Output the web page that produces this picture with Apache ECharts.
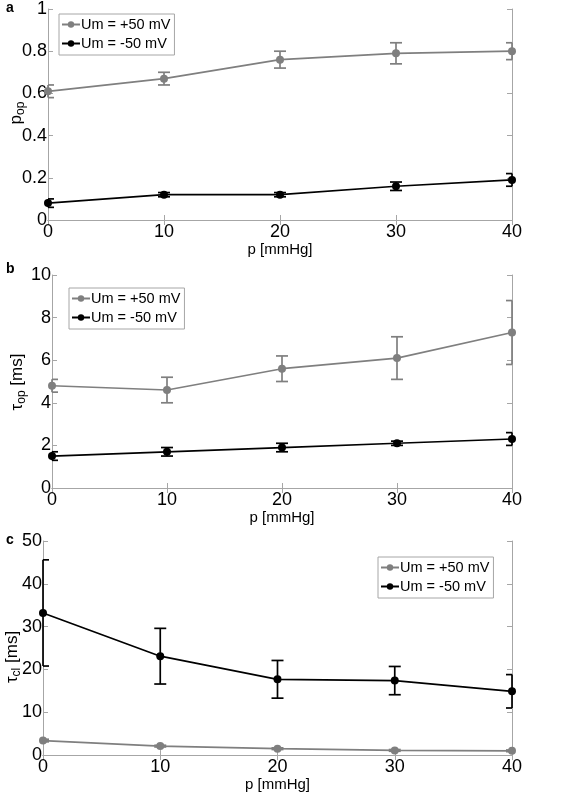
<!DOCTYPE html>
<html><head><meta charset="utf-8">
<script src="https://cdn.jsdelivr.net/npm/echarts@6/dist/echarts.min.js"></script>
<style>html,body{margin:0;padding:0;background:#fff}#c{width:565px;height:793px}</style>
</head><body><div id="c"></div>
<script>
const pressure = [0, 10, 20, 30, 40];
const xTicks = [0, 10, 20, 30, 40];
const seriesNames = ['Um = +50 mV', 'Um = -50 mV'];
// panel a: p_op
const popPos = [0.61, 0.67, 0.76, 0.79, 0.80];
const popPosErr = [0.03, 0.03, 0.04, 0.05, 0.04];
const popNeg = [0.08, 0.12, 0.12, 0.16, 0.19];
const popNegErr = [0.02, 0.01, 0.01, 0.02, 0.03];
// panel b: tau_op [ms]
const topPos = [4.8, 4.6, 5.6, 6.1, 7.3];
const topPosErr = [0.3, 0.6, 0.6, 1.0, 1.5];
const topNeg = [1.5, 1.7, 1.9, 2.1, 2.3];
const topNegErr = [0.2, 0.2, 0.2, 0.1, 0.3];
// panel c: tau_cl [ms]
const tclPos = [3.4, 2.1, 1.5, 1.1, 1.0];
const tclPosErr = [0.3, 0.2, 0.2, 0.2, 0.2];
const tclNeg = [33.2, 23.1, 17.7, 17.4, 14.9];
const tclNegErr = [12.4, 6.5, 4.4, 3.3, 3.9];
// y axis ranges / tick steps
const yA = {min: 0, max: 1, interval: 0.2};
const yB = {min: 0, max: 10, interval: 2};
const yC = {min: 0, max: 50, interval: 10};

const GRAY = '#7f7f7f', BLACK = '#000000', BOX = '#a6a6a6';
const FONT = 'Liberation Sans, Arial, sans-serif';

const grids = [
  {left: 48, top: 7, width: 464, height: 213},
  {left: 52, top: 275, width: 460, height: 213},
  {left: 43, top: 541, width: 469, height: 217}
];
const yRanges = [yA, yB, yC];
const panels = [
  [[popPos, popPosErr], [popNeg, popNegErr]],
  [[topPos, topPosErr], [topNeg, topNegErr]],
  [[tclPos, tclPosErr], [tclNeg, tclNegErr]]
];

const xAxis = [], yAxis = [], series = [], legend = [];
grids.forEach((g, i) => {
  const common = {
    type: 'value', gridIndex: i, min: 0, max: 40, interval: 10,
    axisLine: {show: true, lineStyle: {color: BOX, width: 1}},
    axisTick: {show: true, inside: true, length: 5, lineStyle: {color: BOX}},
    splitLine: {show: false}
  };
  xAxis.push(Object.assign({}, common, {position: 'bottom',
    axisLabel: {color: '#000', fontSize: 18, fontFamily: FONT, margin: 3},
    name: 'p [mmHg]', nameLocation: 'middle', nameGap: i === 2 ? 19 : 21,
    nameTextStyle: {color: '#000', fontSize: 15, fontFamily: FONT}}));
  xAxis.push(Object.assign({}, common, {position: 'top', axisLabel: {show: false}}));
  const yr = yRanges[i];
  const ycommon = {
    type: 'value', gridIndex: i, min: yr.min, max: yr.max, interval: yr.interval,
    axisLine: {show: true, onZero: false, lineStyle: {color: BOX, width: 1}},
    axisTick: {show: true, inside: true, length: 5, lineStyle: {color: BOX}},
    splitLine: {show: false}
  };
  yAxis.push(Object.assign({}, ycommon, {position: 'left',
    axisLabel: {color: '#000', fontSize: 18, fontFamily: FONT, margin: 1}}));
  yAxis.push(Object.assign({}, ycommon, {position: 'right', axisLabel: {show: false}}));

  panels[i].forEach((pair, k) => {
    const color = k === 0 ? GRAY : BLACK;
    const vals = pair[0], errs = pair[1];
    series.push({
      type: 'line', name: seriesNames[k], xAxisIndex: 2 * i, yAxisIndex: 2 * i,
      data: pressure.map((p, j) => [p, vals[j]]),
      symbol: 'circle', symbolSize: 8, showSymbol: true,
      lineStyle: {color: color, width: 1.7}, itemStyle: {color: color},
      clip: false, z: 3
    });
    series.push({
      type: 'custom', name: seriesNames[k] + ' err', xAxisIndex: 2 * i, yAxisIndex: 2 * i,
      data: pressure.map((p, j) => [p, vals[j] - errs[j], vals[j] + errs[j]]),
      z: 2,
      renderItem: function (params, api) {
        const lo = api.coord([api.value(0), api.value(1)]);
        const hi = api.coord([api.value(0), api.value(2)]);
        const cs = params.coordSys;
        const w = 6;
        const xl = Math.max(lo[0] - w, cs.x), xr = Math.min(lo[0] + w, cs.x + cs.width);
        const style = {stroke: color, lineWidth: 1.7, fill: null};
        return {type: 'group', children: [
          {type: 'line', shape: {x1: lo[0], y1: lo[1], x2: hi[0], y2: hi[1]}, style: style},
          {type: 'line', shape: {x1: xl, y1: lo[1], x2: xr, y2: lo[1]}, style: style},
          {type: 'line', shape: {x1: xl, y1: hi[1], x2: xr, y2: hi[1]}, style: style}
        ]};
      }
    });
  });
});

const legendPos = [
  {left: 59, top: 14}, {left: 69, top: 288}, {left: 378, top: 557}
];
legendPos.forEach(p => legend.push({
  data: seriesNames, orient: 'vertical', left: p.left, top: p.top,
  backgroundColor: '#fff', borderColor: BOX, borderWidth: 1, borderRadius: 0,
  padding: [3, 4, 4, 2], itemGap: 4, itemWidth: 18, itemHeight: 8,
  textStyle: {color: '#000', fontSize: 14.5, fontFamily: FONT, padding: [0, 0, 0, -4]},
  selectedMode: false
}));

const rich = {
  m: {fontSize: 17, fontFamily: FONT, color: '#000'},
  s: {fontSize: 12, fontFamily: FONT, color: '#000', padding: [10, 0, 0, 0]}
};
const graphic = [
  {type: 'text', left: 6, top: 1, style: {text: 'a', font: 'bold 14px ' + FONT, fill: '#000'}},
  {type: 'text', left: 6, top: 262, style: {text: 'b', font: 'bold 14px ' + FONT, fill: '#000'}},
  {type: 'text', left: 6, top: 533, style: {text: 'c', font: 'bold 14px ' + FONT, fill: '#000'}},
  {type: 'text', x: 16, y: 113, rotation: Math.PI / 2, style: {
    text: '{m|p}{s|op}', rich: rich, align: 'center', verticalAlign: 'middle'}},
  {type: 'text', x: 17, y: 382, rotation: Math.PI / 2, style: {
    text: '{m|τ}{s|op}{m| [ms]}', rich: rich, align: 'center', verticalAlign: 'middle'}},
  {type: 'text', x: 12, y: 657, rotation: Math.PI / 2, style: {
    text: '{m|τ}{s|cl}{m| [ms]}', rich: rich, align: 'center', verticalAlign: 'middle'}}
];

const chart = echarts.init(document.getElementById('c'), null, {renderer: 'canvas'});
chart.setOption({
  animation: false, backgroundColor: '#fff',
  grid: grids, xAxis: xAxis, yAxis: yAxis, series: series, legend: legend, graphic: graphic
});
</script></body></html>
